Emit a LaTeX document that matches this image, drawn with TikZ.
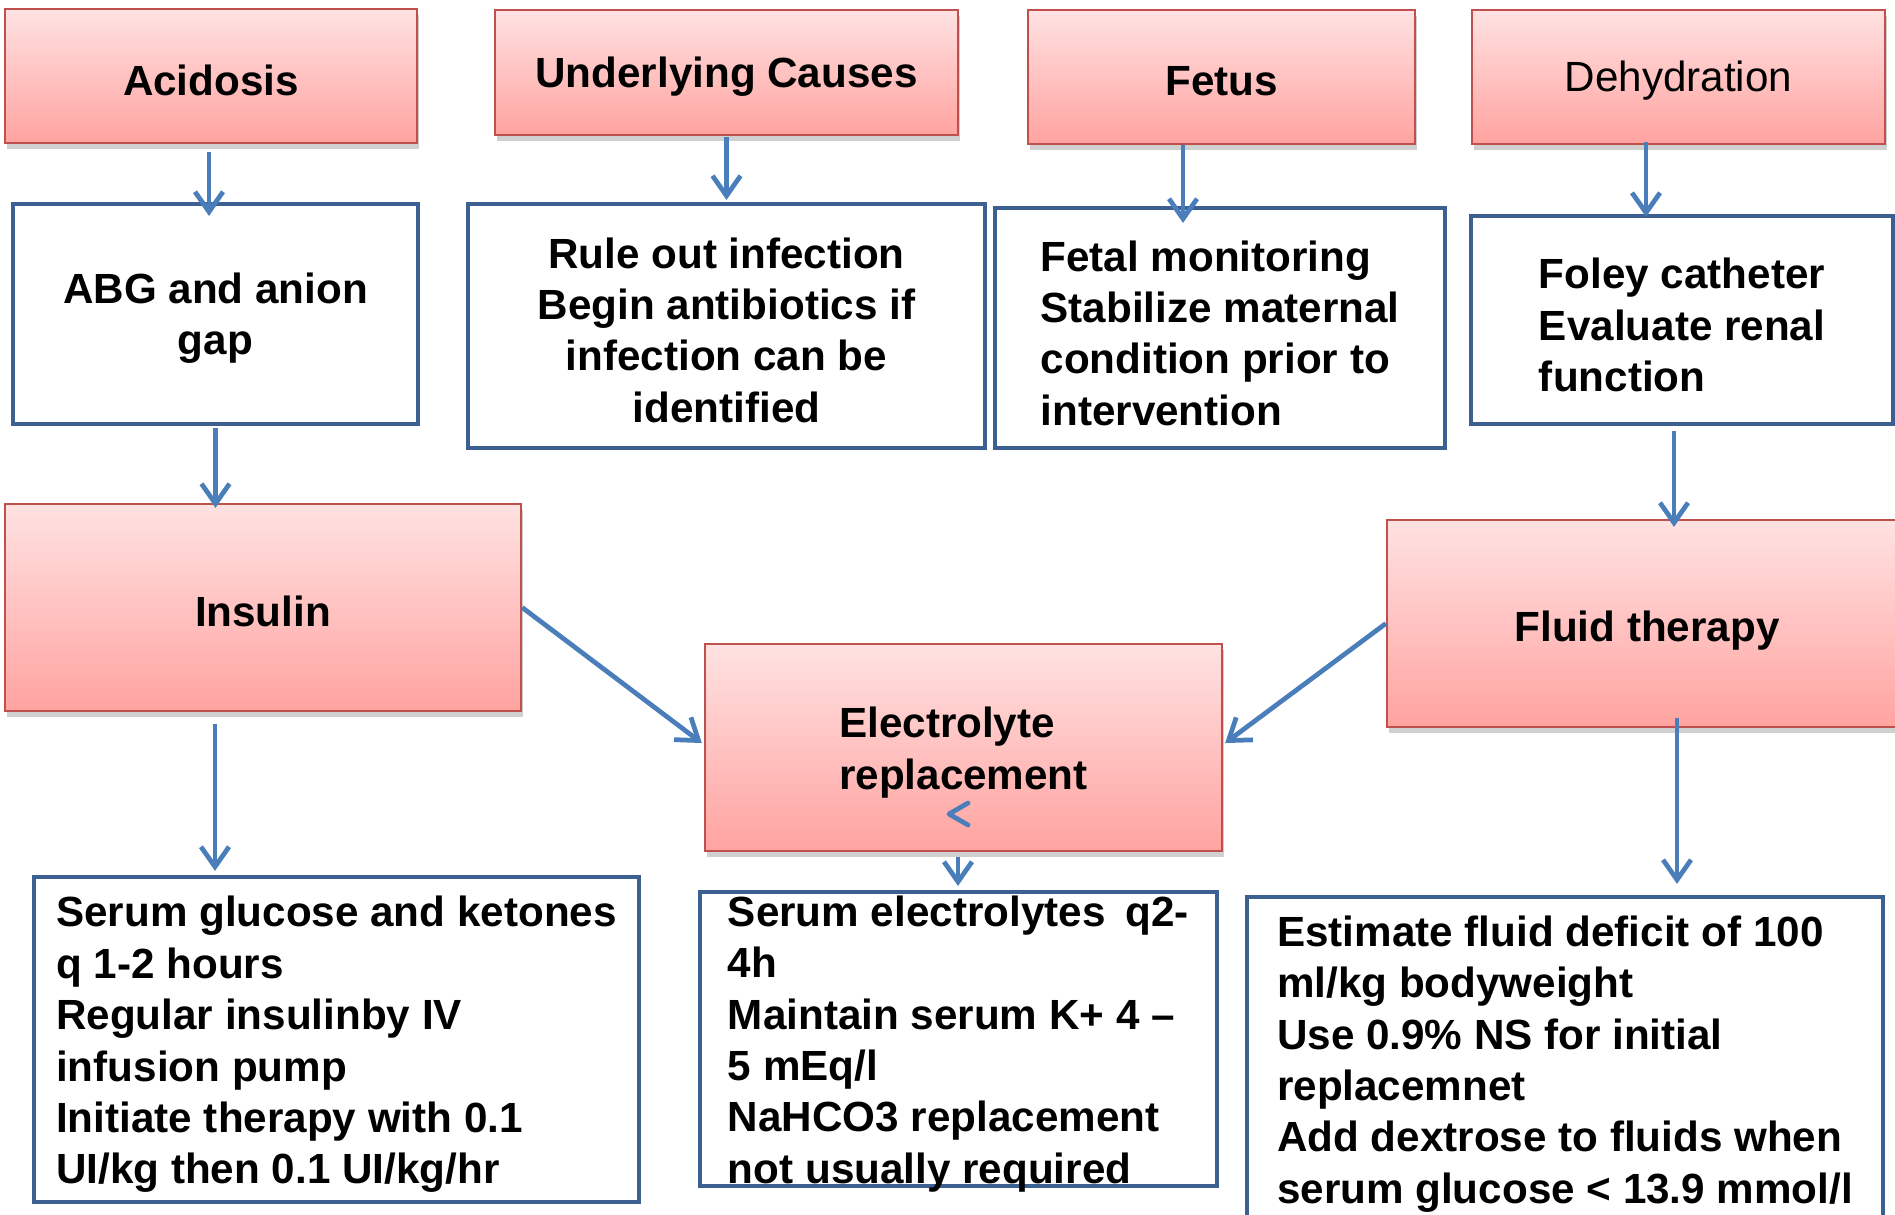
\documentclass[tikz,border=0pt]{standalone}
\usepackage{fontspec}
\setmainfont{Liberation Sans}
\usetikzlibrary{arrows.meta,shadows,calc}
\definecolor{boxblue}{RGB}{60,96,145}
\definecolor{arrblue}{RGB}{74,126,187}
\definecolor{pinkborder}{RGB}{192,80,77}
\definecolor{pinktop}{RGB}{255,226,226}
\definecolor{pinkbot}{RGB}{255,163,160}
\begin{document}
\begin{tikzpicture}[x=0.01cm,y=-0.01cm,
  every node/.style={font=\fontsize{12}{14.6}\selectfont\bfseries, inner sep=0pt},
  pinkbox/.style={draw=pinkborder, line width=0.6pt, top color=pinktop, bottom color=pinkbot,
    drop shadow={shadow xshift=0.02cm, shadow yshift=-0.06cm, opacity=0.3, fill=black!60}},
  whitebox/.style={draw=boxblue, line width=1.15pt, fill=white},
  lft/.style={align=left, yshift=-0.05cm},
  ctr/.style={align=center, yshift=-0.04cm},
  arr/.style={draw=arrblue, line width=1.35pt, -{Straight Barb[length=0.2cm,width=0.28cm]}}]
\useasboundingbox (0,0) rectangle (1895,1214);
\clip (0,0) rectangle (1895,1214);
\fill[white] (0,0) rectangle (1895,1214);

% top row
\node[pinkbox, minimum width=4.12cm, minimum height=1.34cm, label={[ctr]center:Acidosis}] (acid) at (211,76) {};
\node[pinkbox, minimum width=4.63cm, minimum height=1.25cm, label={[ctr]center:Underlying Causes}] (under) at (726.5,72.5) {};
\node[pinkbox, minimum width=3.87cm, minimum height=1.34cm, label={[ctr]center:Fetus}] (fetus) at (1221.5,77) {};
\node[pinkbox, minimum width=4.13cm, minimum height=1.34cm, label={[ctr,font=\fontsize{12}{14.6}\selectfont\mdseries]center:Dehydration}] (dehyd) at (1678.5,77) {};

% second row
\node[whitebox, minimum width=4.05cm, minimum height=2.20cm, label={[ctr]center:{ABG and anion\\gap}}] (abg) at (215.5,314) {};
\node[whitebox, minimum width=5.17cm, minimum height=2.44cm, label={[ctr]center:{Rule out infection\\Begin antibiotics if\\infection can be\\identified}}] (rule) at (726.5,326) {};
\node[whitebox, minimum width=4.50cm, minimum height=2.40cm, label={[lft]center:{Fetal monitoring\\Stabilize maternal\\condition prior to\\intervention}}] (fetal) at (1220,328) {};
\node[whitebox, minimum width=4.22cm, minimum height=2.08cm, label={[lft]center:{Foley catheter\\Evaluate renal\\function}}] (foley) at (1682,320) {};

% middle row
\node[pinkbox, minimum width=5.16cm, minimum height=2.07cm, label={[ctr]center:Insulin}] (insulin) at (263,607.5) {};
\node[pinkbox, minimum width=5.20cm, minimum height=2.07cm, label={[ctr,yshift=-0.03cm]center:Fluid therapy}] (fluid) at (1647,623.5) {};
\node[pinkbox, minimum width=5.17cm, minimum height=2.07cm, label={[lft]center:{Electrolyte\\replacement}}] (elec) at (963.5,747.5) {};

% bottom row
\node[whitebox, minimum width=6.05cm, minimum height=3.25cm, label={[lft]center:{Serum glucose and ketones\\q 1-2 hours\\Regular insulinby IV\\infusion pump\\Initiate therapy with 0.1\\UI/kg then 0.1 UI/kg/hr}}] (glu) at (336.5,1039.5) {};
\node[whitebox, minimum width=5.17cm, minimum height=2.94cm, label={[lft]center:{Serum electrolytes\hspace{0.2em} q2-\\4h\\Maintain serum K+ 4 --\\5 mEq/l\\NaHCO3 replacement\\not usually required}}] (selec) at (958.5,1039) {};
\node[whitebox, minimum width=6.36cm, minimum height=3.28cm, label={[lft,yshift=0.02cm]center:{Estimate fluid deficit of 100\\ml/kg bodyweight\\Use 0.9\% NS for initial\\replacemnet\\Add dextrose to fluids when\\serum glucose < 13.9 mmol/l}}] (est) at (1565,1061) {};

% connectors
\draw[arr] ($(acid.south)+(-2,8)$) -- ($(acid.south |- abg.north)+(-2,14)$);
\draw[arr] ($(under.south)+(0,1)$) -- ($(under.south |- rule.north)+(0,-2)$);
\draw[arr] ($(fetus.south)+(-38.5,0)$) -- ($(fetus.south |- fetal.north)+(-38.5,17)$);
\draw[arr] ($(dehyd.south)+(-32.5,-3)$) -- ($(dehyd.south |- foley.north)+(-32.5,3)$);
\draw[arr] ($(abg.south)+(0,2)$) -- ($(abg.south |- insulin.north)+(0,5)$);
\draw[arr] ($(foley.south)+(-8,5)$) -- ($(foley.south |- fluid.north)+(-8,8)$);
\draw[arr] (insulin.east) -- ($(elec.west)+(-2,-4.5)$);
\draw[arr] (fluid.west) -- ($(elec.east)+(2,-4.5)$);
\draw[arr] ($(insulin.south)+(-48,12)$) -- ($(insulin.south |- glu.north)+(-48,-4)$);
\draw[arr] ($(elec.south)+(-5.5,5)$) -- ($(elec.south |- selec.north)+(-5.5,-4)$);
\draw[arr] ($(fluid.south)+(30,-10)$) -- ($(fluid.south |- est.north)+(30,-11)$);

% stray arrowhead inside the electrolyte box
\draw[arrblue, line width=1.35pt, line cap=round, line join=round] (968,803) -- (949,814) -- (968,825);
\end{tikzpicture}
\end{document}
